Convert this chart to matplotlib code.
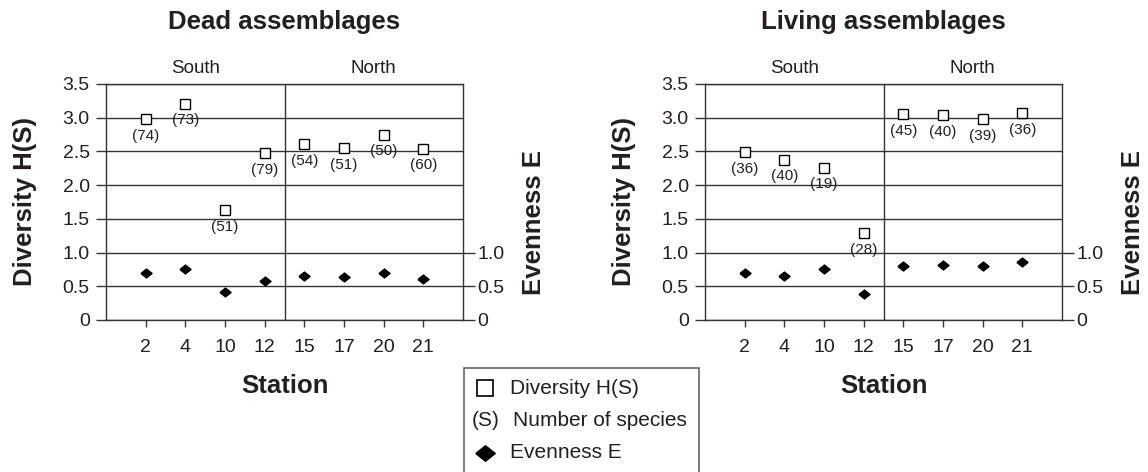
import matplotlib.pyplot as plt
from matplotlib.lines import Line2D
from matplotlib.patches import Rectangle

W, H = 1148, 472

stations = ['2', '4', '10', '12', '15', '17', '20', '21']
n_south = 4

# Dead assemblages
dead_h = [2.98, 3.21, 1.63, 2.47, 2.61, 2.55, 2.75, 2.54]
dead_s = [74, 73, 51, 79, 54, 51, 50, 60]
dead_e = [0.69, 0.76, 0.42, 0.58, 0.65, 0.64, 0.69, 0.61]

# Living assemblages
living_h = [2.49, 2.38, 2.26, 1.29, 3.05, 3.04, 2.98, 3.07]
living_s = [36, 40, 19, 28, 45, 40, 39, 36]
living_e = [0.69, 0.65, 0.76, 0.39, 0.80, 0.81, 0.80, 0.86]

TEXT = '#231f20'
LINE = '#333333'
DIAMOND = [(-1, 0), (0, 0.8), (1, 0), (0, -0.8), (-1, 0)]

plt.rcParams['font.family'] = ['Liberation Sans', 'DejaVu Sans']
plt.rcParams['text.color'] = TEXT
plt.rcParams['axes.labelcolor'] = TEXT
plt.rcParams['xtick.color'] = LINE
plt.rcParams['ytick.color'] = LINE
plt.rcParams['xtick.labelcolor'] = TEXT
plt.rcParams['ytick.labelcolor'] = TEXT


def fx(x):
    return x / W


def fy(y):
    return 1 - y / H


def draw_panel(fig, left_px, title, div, spec, evn):
    # рамка панели в пикселях картинки
    ax = fig.add_axes([fx(left_px), fy(320), 357 / W, 236 / H])
    x = list(range(len(stations)))
    ax.set_xlim(-1, len(stations))
    ax.set_ylim(0, 3.5)

    ax.yaxis.grid(True, color=LINE, lw=1.0)
    ax.set_axisbelow(True)
    divider = n_south - 0.5
    ax.axvline(divider, color=LINE, lw=1.0)

    ax.plot(x, div, ls='none', marker='s', ms=6.8, mfc='white', mec='black', mew=1.0,
            zorder=3)
    ax.plot(x, evn, ls='none', marker=DIAMOND, ms=8, color='black', zorder=3)
    for xi, h, s in zip(x, div, spec):
        ax.annotate(f'({s})', (xi, h), xytext=(0, -12), textcoords='offset points',
                    ha='center', va='center', fontsize=11, zorder=4)

    x0, x1 = ax.get_xlim()
    ax.annotate('South', ((x0 + divider) / 2, 3.5), xytext=(0, 11.5),
                textcoords='offset points', ha='center', va='center', fontsize=13.5,
                annotation_clip=False)
    ax.annotate('North', ((divider + x1) / 2, 3.5), xytext=(0, 11.5),
                textcoords='offset points', ha='center', va='center', fontsize=13.5,
                annotation_clip=False)

    ax.set_xticks(x)
    ax.set_xticklabels(stations, fontsize=14)
    ax.set_yticks([0, 0.5, 1.0, 1.5, 2.0, 2.5, 3.0, 3.5])
    ax.set_yticklabels(['0', '0.5', '1.0', '1.5', '2.0', '2.5', '3.0', '3.5'], fontsize=14)
    ax.tick_params(axis='x', direction='out', length=5, width=1.0, pad=9)
    ax.tick_params(axis='y', direction='out', length=7.2, width=1.0, pad=4.5)
    for sp in ax.spines.values():
        sp.set_color(LINE)
        sp.set_linewidth(1.0)

    ax.set_xlabel('Station', fontsize=18.5, fontweight='bold')
    ax.xaxis.label.set_va('center')
    ax.xaxis.set_label_coords(0.5, -0.28)
    ax.set_ylabel('Diversity H(S)', fontsize=18.5, fontweight='bold')
    ax.yaxis.label.set_va('center')
    ax.yaxis.set_label_coords(-0.227, 0.5)
    ax.set_title(title, fontsize=18.5, fontweight='bold', y=1 + 62 / 236, va='center',
                 pad=0)

    ax2 = ax.twinx()
    ax2.set_ylim(ax.get_ylim())
    ax2.set_yticks([0, 0.5, 1.0])
    ax2.set_yticklabels(['0', '0.5', '1.0'], fontsize=14)
    ax2.tick_params(axis='y', direction='out', length=8.6, width=1.0, pad=2)
    for sp in ax2.spines.values():
        sp.set_visible(False)
    ax2.set_ylabel('Evenness E', fontsize=18.5, fontweight='bold')
    ax2.yaxis.label.set_va('center')
    ax2.yaxis.set_label_coords(1.2, 0.415)
    return ax


def draw_legend(fig):
    box = Rectangle((fx(464), fy(485)), (699 - 464) / W, (485 - 368) / H,
                    transform=fig.transFigure, fill=False, ec='#666666', lw=1.2,
                    clip_on=False)
    fig.patches.append(box)
    fig.add_artist(Line2D([fx(485)], [fy(388)], marker='s', ms=11.5, mfc='white',
                          mec='black', mew=1.2, transform=fig.transFigure))
    fig.add_artist(Line2D([fx(485)], [fy(453)], marker=DIAMOND, ms=14, color='black',
                          transform=fig.transFigure))
    fig.text(fx(510), fy(388), 'Diversity H(S)', fontsize=15, va='center')
    fig.text(fx(472), fy(420), '(S)', fontsize=15, va='center')
    fig.text(fx(513), fy(420), 'Number of species', fontsize=15, va='center')
    fig.text(fx(510), fy(453), 'Evenness E', fontsize=15, va='center')


def main():
    fig = plt.figure(figsize=(W / 100, H / 100), dpi=100)
    draw_panel(fig, 106, 'Dead assemblages', dead_h, dead_s, dead_e)
    draw_panel(fig, 705, 'Living assemblages', living_h, living_s, living_e)
    draw_legend(fig)
    fig.savefig('out.png', dpi=100)


if __name__ == '__main__':
    main()
